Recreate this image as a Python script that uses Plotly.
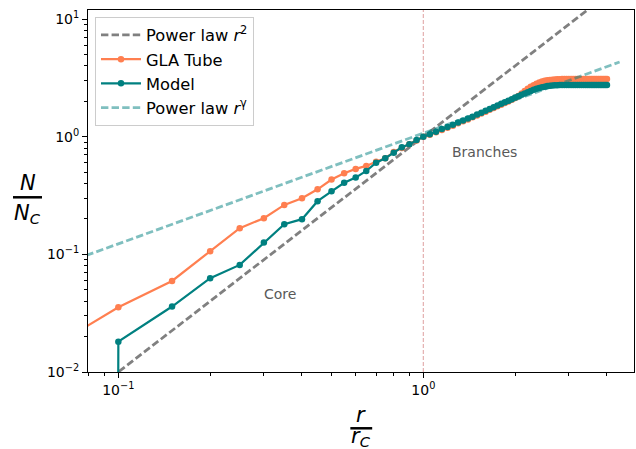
import numpy as np
import plotly.graph_objects as go

# Radial sampling grid (r / r_C)
r = [0.05, 0.10, 0.15, 0.20, 0.25, 0.30, 0.35, 0.40, 0.45, 0.50,
     0.55, 0.60, 0.65, 0.70, 0.75, 0.80, 0.85, 0.90, 0.95, 1.00,
     1.05, 1.10, 1.15, 1.20, 1.25, 1.30, 1.35, 1.40, 1.45, 1.50,
     1.55, 1.60, 1.65, 1.70, 1.75, 1.80, 1.85, 1.90, 1.95, 2.00,
     2.05, 2.10, 2.15, 2.20, 2.25, 2.30, 2.35, 2.40, 2.45, 2.50,
     2.55, 2.60, 2.65, 2.70, 2.75, 2.80, 2.85, 2.90, 2.95, 3.00,
     3.05, 3.10, 3.15, 3.20, 3.25, 3.30, 3.35, 3.40, 3.45, 3.50,
     3.55, 3.60, 3.65, 3.70, 3.75, 3.80, 3.85, 3.90, 3.95, 4.00]

# Normalised counts N / N_C
gla_tube = [0.012, 0.0355, 0.0594, 0.106, 0.167, 0.203, 0.263, 0.300, 0.357, 0.432,
            0.489, 0.532, 0.564, 0.613, 0.655, 0.740, 0.800, 0.860, 0.930, 1.000,
            1.04, 1.09, 1.14, 1.19, 1.24, 1.30, 1.35, 1.40, 1.46, 1.51,
            1.57, 1.63, 1.69, 1.75, 1.81, 1.87, 1.93, 1.99, 2.06, 2.13,
            2.22, 2.33, 2.44, 2.55, 2.65, 2.74, 2.82, 2.89, 2.94, 2.98,
            3.01, 3.03, 3.05, 3.06, 3.07, 3.08, 3.09, 3.09, 3.09, 3.09,
            3.09, 3.09, 3.09, 3.09, 3.09, 3.09, 3.09, 3.09, 3.09, 3.09,
            3.09, 3.09, 3.09, 3.09, 3.09, 3.09, 3.09, 3.09, 3.09, 3.09]

model = [0.0, 0.0181, 0.036, 0.0627, 0.0813, 0.126, 0.180, 0.199, 0.283, 0.343,
         0.406, 0.449, 0.511, 0.601, 0.655, 0.731, 0.813, 0.861, 0.937, 1.000,
         1.05, 1.10, 1.16, 1.21, 1.26, 1.32, 1.37, 1.43, 1.48, 1.54,
         1.60, 1.66, 1.72, 1.78, 1.84, 1.90, 1.96, 2.02, 2.08, 2.15,
         2.21, 2.27, 2.33, 2.39, 2.45, 2.50, 2.55, 2.59, 2.63, 2.66,
         2.69, 2.71, 2.72, 2.73, 2.74, 2.75, 2.75, 2.75, 2.75, 2.75,
         2.75, 2.75, 2.75, 2.75, 2.75, 2.75, 2.75, 2.75, 2.75, 2.75,
         2.75, 2.75, 2.75, 2.75, 2.75, 2.75, 2.75, 2.75, 2.75, 2.75]

# Power-law fit parameters for the branch region
gamma = 0.94
amp = 1.07

x_tick_vals = [0.1, 1.0]
x_tick_text = ["10<sup>\u22121</sup>", "10<sup>0</sup>"]
y_tick_vals = [0.01, 0.1, 1.0, 10.0]
y_tick_text = ["10<sup>\u22122</sup>", "10<sup>\u22121</sup>", "10<sup>0</sup>", "10<sup>1</sup>"]

FONT = "DejaVu Sans"
ORANGE = "#FF7F50"
TEAL = "#008080"

r_arr = np.array(r)
r_fit = np.linspace(r_arr.min(), r_arr.max() * 1.1, 300)
# log axes cannot show zero: floor non-positive counts like a clipped log scale
model_plot = np.where(np.array(model) > 0, np.array(model), 1e-300)

fig = go.Figure()
fig.add_trace(go.Scatter(
    x=r_fit, y=r_fit ** 2, mode="lines", name="Power law <i>r</i><sup>2</sup>",
    line=dict(color="gray", width=2.8, dash="7.4px,3.2px"), legendgroup="a"))
fig.add_trace(go.Scatter(
    x=r, y=gla_tube, mode="lines+markers", name="GLA Tube",
    line=dict(color=ORANGE, width=2.2), marker=dict(color=ORANGE, size=6.5),
    legendgroup="b"))
fig.add_trace(go.Scatter(
    x=r, y=model_plot, mode="lines+markers", name="Model",
    line=dict(color=TEAL, width=2.2), marker=dict(color=TEAL, size=6.5),
    legendgroup="c"))
fig.add_trace(go.Scatter(
    x=r_fit, y=amp * r_fit ** gamma, mode="lines",
    name="Power law <i>r</i><sup>\u03b3</sup>",
    line=dict(color="rgba(0,128,128,0.5)", width=2.8, dash="7.4px,3.2px"),
    legendgroup="d"))

# core / branch boundary
fig.add_shape(type="line", xref="x", yref="paper", x0=1, x1=1, y0=0, y1=1,
              line=dict(color="#e4b0b0", width=1.2, dash="4px,2px"),
              layer="below")

minor_x = [v * m for v in (0.01, 0.1, 1.0) for m in range(2, 10)]
minor_y = [v * m for v in (0.001, 0.01, 0.1, 1.0, 10.0) for m in range(2, 10)]

axis_common = dict(
    type="log", showgrid=False, zeroline=False, showline=True, mirror=True,
    linecolor="black", linewidth=1, ticks="outside", ticklen=5, tickwidth=1,
    tickcolor="black", tickfont=dict(family=FONT, size=14, color="black"),
)
fig.update_xaxes(range=[-1.0995, 0.6907], tickvals=x_tick_vals, ticktext=x_tick_text,
                 minor=dict(tickvals=minor_x, ticks="outside", ticklen=3,
                            tickcolor="black", tickwidth=1),
                 **axis_common)
fig.update_yaxes(range=[-2.0, 1.0765], tickvals=y_tick_vals, ticktext=y_tick_text,
                 minor=dict(tickvals=minor_y, ticks="outside", ticklen=3,
                            tickcolor="black", tickwidth=1),
                 **axis_common)


def label(text, x, y, size, color="black", xref="paper", yref="paper"):
    return dict(text=text, x=x, y=y, xref=xref, yref=yref, showarrow=False,
                xanchor="center", yanchor="middle",
                font=dict(family=FONT, size=size, color=color))


annotations = [
    label("Core", np.log10(0.339), np.log10(0.0461), 14, "#595959", "x", "y"),
    label("Branches", np.log10(1.587), np.log10(0.746), 14, "#595959", "x", "y"),
    # y label: N / N_C
    label("<i>N</i>", -0.1108, 0.523, 21),
    label("<i>N</i><sub><i>C</i></sub>", -0.1108, 0.437, 21),
    # x label: r / r_C
    label("<i>r</i>", 0.5, -0.118, 21),
    label("<i>r</i><sub><i>C</i></sub>", 0.5, -0.18, 21),
]
fig.add_shape(type="line", xref="paper", yref="paper", x0=-0.1374, x1=-0.0842,
              y0=0.4826, y1=0.4826, line=dict(color="black", width=2.5))
fig.add_shape(type="line", xref="paper", yref="paper", x0=0.4805, x1=0.5205,
              y0=-0.1555, y1=-0.1555, line=dict(color="black", width=2.5))

fig.update_layout(
    width=636, height=449,
    margin=dict(l=88, r=2, t=10, b=77),
    plot_bgcolor="white", paper_bgcolor="white",
    font=dict(family=FONT, size=14, color="black"),
    annotations=annotations,
    showlegend=True,
    legend=dict(x=0.0128, y=0.981, xanchor="left", yanchor="top",
                bgcolor="rgba(255,255,255,0.85)", bordercolor="#cccccc", borderwidth=1,
                font=dict(family=FONT, size=16.3, color="black"),
                tracegroupgap=0, itemwidth=40),
)

fig.write_html("out.html")
